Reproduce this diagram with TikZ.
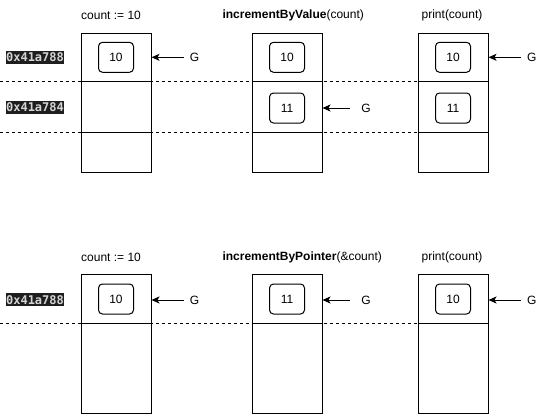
\documentclass[tikz,border=0pt]{standalone}
\usepackage{fontspec}
\setmainfont{Liberation Sans}
\newfontfamily\addrfont{DejaVu Sans Mono}
\usetikzlibrary{arrows.meta}
\definecolor{codebg}{HTML}{1E1E1E}
\definecolor{codefg}{HTML}{D4D4D4}
\begin{document}
\begin{tikzpicture}[x=1pt,y=-1pt,
  every node/.style={font=\fontsize{12}{14}\selectfont},
  frame/.style={draw, fill=white, line width=1pt, minimum width=70pt, inner sep=0pt},
  cell/.style={draw, rounded corners=4pt, line width=1pt, minimum width=35pt, minimum height=30pt, inner sep=0pt},
  addr/.style={fill=codebg, text=codefg, font=\addrfont\bfseries\fontsize{12}{14}\selectfont, minimum width=58pt, minimum height=13pt, inner sep=0pt},
  gnode/.style={inner xsep=6pt, inner ysep=0pt},
  ptr/.style={-{Stealth[length=8pt,width=7pt,inset=2pt]}, line width=1pt},
  sepline/.style={line width=1pt, dash pattern=on 3pt off 3pt},
  divline/.style={line width=1pt},
  title/.style={anchor=west, inner sep=0pt}
]
\useasboundingbox (0,0) rectangle (543,415);

% ===== top group =====
\node[title] (t1) at (81,15.5) {count := 10};
\node[title] (t2) at (222.3,15.5) {\textbf{incrementByValue}(count)};
\node[inner sep=0pt] (t3) at (452,15.5) {print(count)};

\node[frame, minimum height=139pt] (a1) at (116,102.5) {};
\node[frame, minimum height=139pt] (a2) at (287,102.5) {};
\node[frame, minimum height=139pt] (a3) at (453,102.5) {};

\coordinate (d1) at (0,81);
\coordinate (d2) at (0,132);
\draw[sepline] (d1) -- (a3.west |- d1);
\draw[sepline] (d2) -- (a3.west |- d2);
\foreach \c in {a1,a2,a3}{
  \draw[divline] (\c.west |- d1) -- (\c.east |- d1);
  \draw[divline] (\c.west |- d2) -- (\c.east |- d2);
}

\node[addr] (m1) at (35,57.5) {0x41a788};
\node[addr] (m2) at (35,107.5) {0x41a784};

\node[cell] (a1v) at (116,57.3) {10};
\node[cell] (a2v) at (287,57.3) {10};
\node[cell] (a2w) at (287,108) {11};
\node[cell] (a3v) at (453,57.3) {10};
\node[cell] (a3w) at (453,108) {11};

\node[gnode] (g1) at (194.5,57.3) {G};
\node[gnode, inner xsep=11pt] (g2) at (366,108) {G};
\node[gnode] (g3) at (531.7,57.3) {G};
\draw[ptr] (g1.west) -- (a1.east |- g1.west);
\draw[ptr] (g2.west) -- (a2.east |- g2.west);
\draw[ptr] (g3.west) -- (a3.east |- g3.west);

% ===== bottom group =====
\node[title] (b1t) at (81,257) {count := 10};
\node[title] (b2t) at (222.3,257) {\textbf{incrementByPointer}(\&count)};
\node[inner sep=0pt] (b3t) at (452,257) {print(count)};

\node[frame, minimum height=139pt] (b1) at (116,343.5) {};
\node[frame, minimum height=139pt] (b2) at (287,343.5) {};
\node[frame, minimum height=139pt] (b3) at (453,343.5) {};

\coordinate (d3) at (0,323);
\draw[sepline] (d3) -- (b3.west |- d3);
\foreach \c in {b1,b2,b3}{
  \draw[divline] (\c.west |- d3) -- (\c.east |- d3);
}

\node[addr] (m3) at (35,299.7) {0x41a788};

\node[cell] (b1v) at (116,299) {10};
\node[cell] (b2v) at (287,299) {11};
\node[cell] (b3v) at (453,299) {10};

\node[gnode] (g4) at (194.5,300) {G};
\node[gnode, inner xsep=11pt] (g5) at (366,300) {G};
\node[gnode] (g6) at (531.7,300) {G};
\draw[ptr] (g4.west) -- (b1.east |- g4.west);
\draw[ptr] (g5.west) -- (b2.east |- g5.west);
\draw[ptr] (g6.west) -- (b3.east |- g6.west);
\end{tikzpicture}
\end{document}
